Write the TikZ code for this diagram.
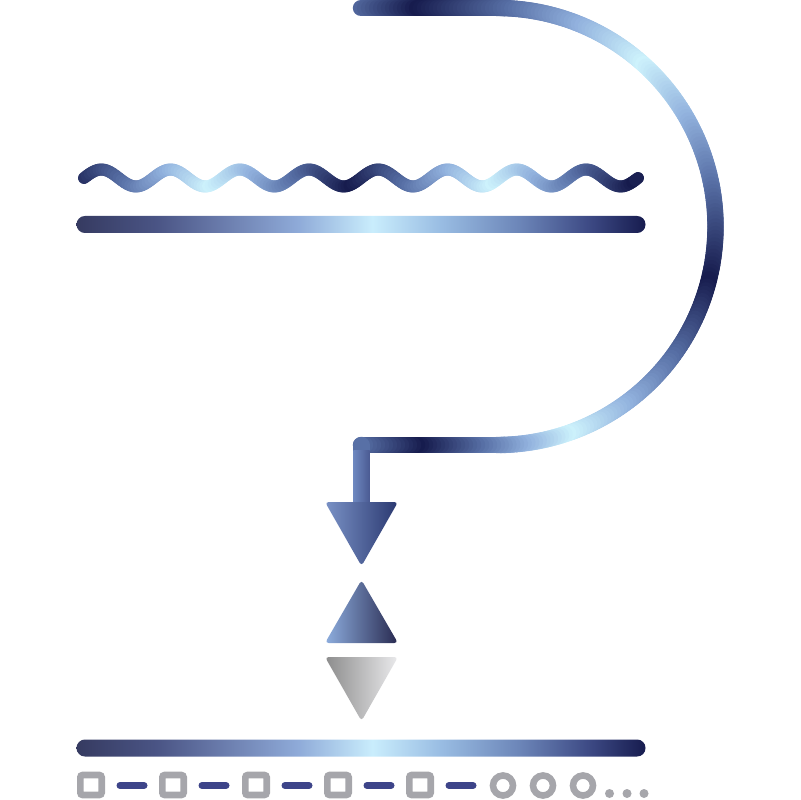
\documentclass[tikz,border=0pt]{standalone}
\usepackage{tikz}
\usetikzlibrary{calc}

\definecolor{gdark}{HTML}{161B4D}
\definecolor{gmid}{HTML}{5870A6}
\definecolor{glight}{HTML}{92B2DE}
\definecolor{gcyan}{HTML}{CDF2FC}
\definecolor{markgray}{HTML}{A6A6AB}
\definecolor{dashblue}{HTML}{3D4489}
\definecolor{stema}{HTML}{6E88C0}
\definecolor{stemb}{HTML}{4A5A92}
\definecolor{tipa}{HTML}{7A92C6}
\definecolor{tipb}{HTML}{2A3870}
\definecolor{tipc}{HTML}{8EAEDF}
\definecolor{tipd}{HTML}{282A50}
\definecolor{tipe}{HTML}{8C8C8C}
\definecolor{tipf}{HTML}{EAEAEC}

\pgfdeclarehorizontalshading{barshading}{100bp}{rgb(0bp)=(0.21,0.23,0.38); rgb(25bp)=(0.21,0.23,0.38); rgb(32bp)=(0.29,0.33,0.52); rgb(38bp)=(0.42,0.49,0.68); rgb(44.5bp)=(0.56,0.67,0.85); rgb(51bp)=(0.79,0.93,0.99); rgb(57bp)=(0.60,0.74,0.89); rgb(64bp)=(0.42,0.52,0.72); rgb(70bp)=(0.24,0.29,0.52); rgb(75bp)=(0.09,0.11,0.31); rgb(100bp)=(0.09,0.11,0.31)}

% colour of a stroke piece: #1 counts dark (even) to cyan (odd)
\newcommand{\gradcolor}[1]{%
  \pgfmathsetmacro{\gradv}{abs(#1-2*round(#1/2))}%
  \ifdim\gradv pt<0.4pt
    \pgfmathsetmacro{\gradp}{min(100,max(0,\gradv*250))}\colorlet{segcol}{gmid!\gradp!gdark}%
  \else\ifdim\gradv pt<0.7pt
    \pgfmathsetmacro{\gradp}{min(100,max(0,(\gradv-0.4)*333.3))}\colorlet{segcol}{glight!\gradp!gmid}%
  \else
    \pgfmathsetmacro{\gradp}{min(100,max(0,(\gradv-0.7)*333.3))}\colorlet{segcol}{gcyan!\gradp!glight}%
  \fi\fi}
% position along the hook -> gradient count
\newcommand{\hookpar}[1]{%
  \pgfmathsetmacro{\gradu}{(#1)>958 ? 4.4 : ((#1)<57 ? ((#1)-57)/163 : ((#1)<535 ? ((#1)-57)/239 : ((#1)<751 ? 2+((#1)-535)/216 : 3+((#1)-751)/151)))}}

\tikzset{
  hookline/.style={line width=4.1pt, line cap=round},
  waveline/.style={line width=3pt, line cap=round},
  barshape/.style={shading=barshading, rounded corners=2.1pt},
  boxmark/.style={draw=markgray, line width=1.65pt, rounded corners=0.6pt},
  dashmark/.style={draw=dashblue, line width=1.75pt, line cap=round},
  ringmark/.style={draw=markgray, line width=1.65pt},
  tipshape/.style={rounded corners=0.9pt},
}

\begin{document}
\begin{tikzpicture}[x=0.25pt,y=-0.25pt]
\useasboundingbox (0,0) rectangle (800,800);
% hook
\foreach \x in {361,365,...,493}{
  \hookpar{\x-361}\gradcolor{\gradu}
  \draw[hookline,segcol] (\x,8) -- (\x+4,8);
}
\foreach \a in {0,...,179}{
  \hookpar{136+3.8136*\a}\gradcolor{\gradu}
  \draw[hookline,segcol] ({497+218.5*sin(\a)},{226.5-218.5*cos(\a)}) -- ({497+218.5*sin(\a+1)},{226.5-218.5*cos(\a+1)});
}
\foreach \x in {497,493,...,365}{
  \hookpar{822.4+497-\x}\gradcolor{\gradu}
  \draw[hookline,segcol] (\x,445) -- (\x-4,445);
}
\hookpar{960}\gradcolor{\gradu}
\draw[hookline,segcol] (361.5,445) -- (361.5,452);
\shade[left color=stema, right color=stemb] (353.3,450) rectangle (369.7,506);
% wave
\foreach \i in {0,...,191}{
  \pgfmathsetmacro{\xa}{84+\i*69.25/24}
  \pgfmathsetmacro{\xb}{84+(\i+1)*69.25/24}
  \pgfmathsetmacro{\gradu}{(\xa-68)/141}
  \gradcolor{\gradu}
  \draw[waveline,segcol] (\xa,{178-8.5*sin(15*\i)}) -- (\xb,{178-8.5*sin(15*(\i+1))});
}
% bars
\shade[barshape] (76.5,216) rectangle (645.5,233);
\shade[barshape] (76.5,739.5) rectangle (645.5,756.5);
% triangles
\shade[left color=tipa, right color=tipb, tipshape] (325,502) -- (398,502) -- (361.5,566) -- cycle;
\shade[left color=tipc, right color=tipd, tipshape] (361.5,580) -- (398,643) -- (325,643) -- cycle;
\shade[left color=tipe, right color=tipf, tipshape] (325,657) -- (398,657) -- (361.5,721) -- cycle;
% bottom row
\foreach \x in {91,173,256,338,420} \draw[boxmark] (\x-10.7,775) rectangle (\x+10.7,795);
\foreach \x in {132,214,297,379,461} \draw[dashmark] (\x-12,785.5) -- (\x+12,785.5);
\foreach \x in {503,543,583} \draw[ringmark] (\x,785.5) circle (10);
\foreach \x in {609.5,627,644} \fill[markgray] (\x,793.5) circle (4.5);
\end{tikzpicture}
\end{document}
